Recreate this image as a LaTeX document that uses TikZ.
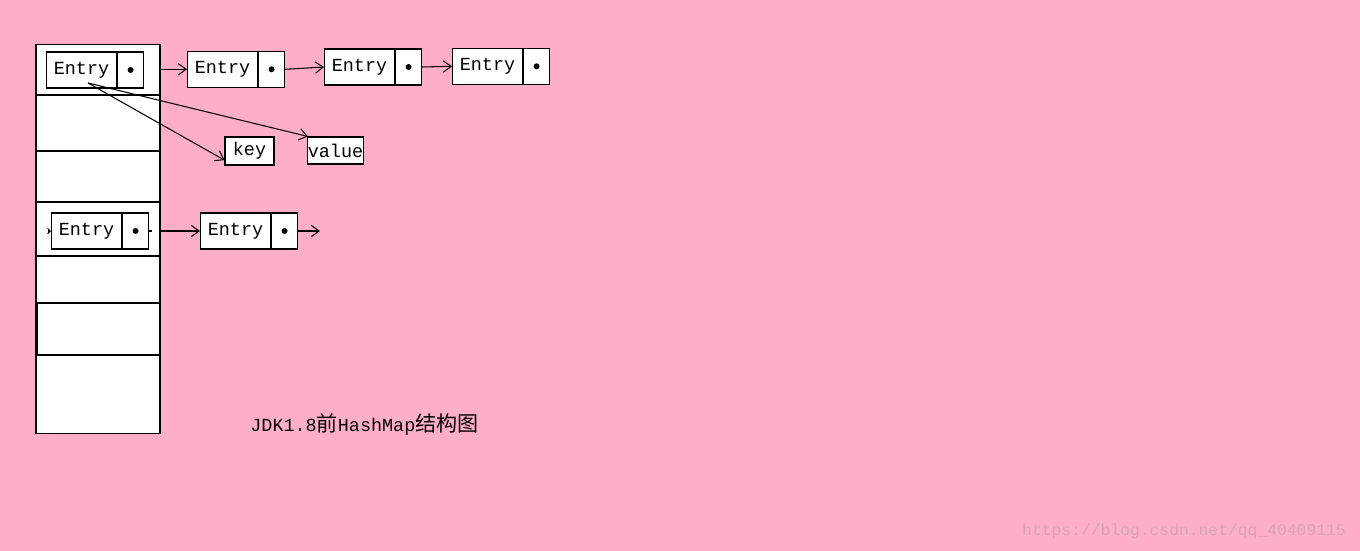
\documentclass[tikz,border=0pt]{standalone}
\usepackage{fontspec}
\setmainfont{Liberation Mono}
\newfontfamily\cjk{Noto Sans CJK SC}
\usetikzlibrary{arrows.meta}
\usetikzlibrary{calc}

\definecolor{rose}{RGB}{255,174,201}
\definecolor{mark}{RGB}{212,166,180}

\tikzset{
    ent/.style={draw, fill=white, anchor=west, inner sep=0pt,
        minimum width=1.4cm, minimum height=0.72cm, font=\fontsize{10.5}{12}\selectfont},
    ptr/.style={draw, fill=white, anchor=west, inner sep=0pt,
        minimum width=0.52cm, minimum height=0.72cm,
        path picture={\fill[black] (path picture bounding box.center) circle (0.06cm);}},
    slot/.style={draw, fill=white, inner sep=0pt, minimum width=2.48cm},
    field/.style={draw, fill=white, inner sep=0pt, minimum height=0.56cm, font=\fontsize{10.5}{12}\selectfont},
    link/.style={-{Straight Barb[length=4.5pt,width=6.5pt]}},
}

\begin{document}
\begin{tikzpicture}[x=0.02cm, y=-0.02cm, line width=0.6pt]
    \fill[rose] (0,0) rectangle (1360,551);
    \useasboundingbox (0,0) rectangle (1360,551);

    % the table of buckets
    \node[slot, minimum height=7.8cm] (table) at (98,239) {};
    \node[slot, minimum height=1.12cm] (slot2) at (98,123) {};
    \node[slot, minimum height=1.08cm] (slot3) at (98,229) {};
    \node[slot, minimum width=2.46cm, minimum height=1.04cm] (slot5) at (98.5,329) {};

    % first bucket chain
    \node[ent] (e1) at (46,70) {Entry};
    \node[ptr] (p1) at (e1.east) {};
    \node[ent] (e2) at (187,69.3) {Entry};
    \node[ptr] (p2) at (e2.east) {};
    \node[ent] (e3) at (324,67) {Entry};
    \node[ptr] (p3) at (e3.east) {};
    \node[ent] (e4) at (452,66.3) {Entry};
    \node[ptr] (p4) at (e4.east) {};

    % key and value of an entry
    \node[field, minimum width=0.98cm] (key) at (249.5,151) {key};
    \node[field, minimum width=1.1cm, minimum height=0.54cm] (value) at (335.5,150.5) {value};
    \coordinate (kv) at (88,83);

    % second bucket chain
    \node[ent] (e5) at (51,231) {Entry};
    \node[ptr] (p5) at (e5.east) {};
    \node[ent] (e6) at (200,231) {Entry};
    \node[ptr] (p6) at (e6.east) {};
    \coordinate (nil) at (320,231);
    \coordinate (in5) at (48,231);

    \draw[link] (table.east |- e2.west) -- (e2.west);
    \draw[link] (p2.east) -- (e3.west);
    \draw[link] (p3.east) -- (e4.west);
    \draw[link] (kv) -- (key.200);
    \draw[link] (kv) -- (value.153);

    \draw[-{Straight Barb[length=1.5pt,width=3pt]}] (in5) -- (e5.west);
    \draw (p5.east) -- ++(3,0);
    \draw[link] (table.east |- e6.west) -- (e6.west);
    \draw[link] (p6.east) -- (nil);

    \node (title) at (364.5,425) {\fontsize{10.5}{12}\selectfont JDK1.8{\cjk\fontsize{12}{14}\selectfont 前}HashMap{\cjk\fontsize{12}{14}\selectfont 结构图}};
    \node[text=mark, font=\fontsize{9.3}{11}\selectfont] (wm) at (1184,531) {https://blog.csdn.net/qq\_40409115};
\end{tikzpicture}
\end{document}
